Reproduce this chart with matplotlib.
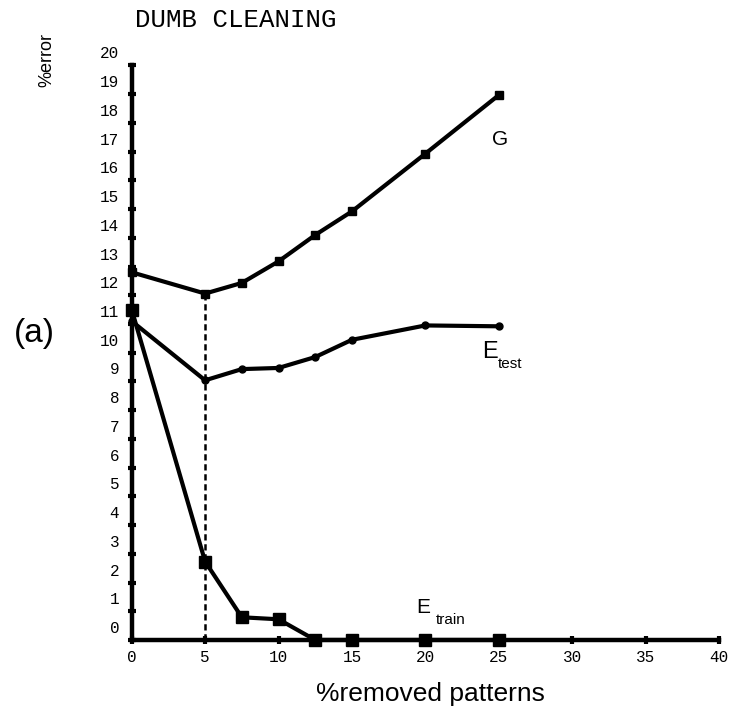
import matplotlib
matplotlib.use("Agg")
import matplotlib.pyplot as plt
from matplotlib.transforms import ScaledTranslation

# ---- data ----
removed = [0, 5, 7.5, 10, 12.5, 15, 20, 25]
G = [12.8, 12.06, 12.43, 13.18, 14.10, 14.92, 16.93, 18.97]
E_test = [11.1, 9.04, 9.43, 9.47, 9.85, 10.45, 10.95, 10.92]
E_train = [11.5, 2.73, 0.79, 0.72, 0, 0, 0, 0]
x_ticks = [0, 5, 10, 15, 20, 25, 30, 35, 40]
y_ticks = list(range(0, 21))
best_x = 5

fig = plt.figure(figsize=(7.30, 7.11), dpi=100)
ax = fig.add_axes([0.1804, 0.0999, 0.8046, 0.808])
ax.set_xlim(0, 40)
ax.set_ylim(0, 20)

for s in ("top", "right"):
    ax.spines[s].set_visible(False)
for s in ("left", "bottom"):
    ax.spines[s].set_linewidth(3.2)
    ax.spines[s].set_zorder(2)

ax.set_xticks(x_ticks)
ax.set_xticklabels([str(v) for v in x_ticks], family="Liberation Mono", fontsize=11.5)
ax.set_yticks(y_ticks)
ax.set_yticklabels([str(v) for v in y_ticks], family="Liberation Mono", fontsize=11.5)
ax.tick_params(axis="both", direction="inout", length=6, width=3, color="black")
ax.tick_params(axis="x", pad=4)
ax.tick_params(axis="y", pad=6)
off = ScaledTranslation(0, 13 / 100, fig.dpi_scale_trans)
for lab in ax.get_yticklabels():
    lab.set_transform(lab.get_transform() + off)

lw = 3.0
ax.plot([best_x, best_x], [0, G[removed.index(best_x)]], color="black", lw=1.8,
        dashes=(2.5, 1.5), zorder=1)
ax.plot(removed, G, color="black", lw=lw, marker="s", ms=6, clip_on=False, zorder=3)
ax.plot(removed, E_test, color="black", lw=lw, marker="o", ms=5, clip_on=False, zorder=3)
ax.plot(removed, E_train, color="black", lw=lw, marker="s", ms=9, clip_on=False, zorder=4)

lab_font = "Liberation Sans"
ax.text(25.1, 17.44, "G", fontsize=15, family=lab_font, ha="center", va="center")
ax.text(23.84, 10.03, "E", fontsize=17, family=lab_font, ha="left", va="center")
ax.text(24.9, 9.62, "test", fontsize=11, family=lab_font, ha="left", va="center")
ax.text(19.41, 1.13, "E", fontsize=15, family=lab_font, ha="left", va="center")
ax.text(20.72, 0.70, "train", fontsize=11, family=lab_font, ha="left", va="center")

fig.text(135 / 730, 1 - 20 / 711, "DUMB CLEANING", family="Liberation Mono",
         fontsize=18.5, ha="left", va="center")
fig.text(47 / 730, 1 - 60 / 711, "%error", family=lab_font, fontsize=13,
         rotation=90, ha="center", va="center")
fig.text(34 / 730, 1 - 333 / 711, "(a)", family=lab_font, fontsize=24,
         ha="center", va="center")
fig.text(430 / 730, 1 - 694 / 711, "%removed patterns", family=lab_font,
         fontsize=19, ha="center", va="center")

fig.savefig("out.png", dpi=100)
